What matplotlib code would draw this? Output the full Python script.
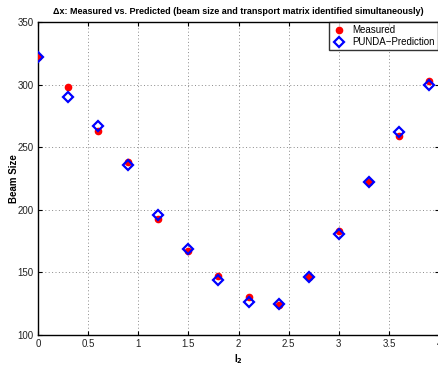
import matplotlib
matplotlib.use("Agg")
import matplotlib.pyplot as plt

plt.rcParams['font.family'] = ['Liberation Sans', 'DejaVu Sans']

x_vals = [0, 0.3, 0.6, 0.9, 1.2, 1.5, 1.8, 2.1, 2.4, 2.7, 3.0, 3.3, 3.6, 3.9]
measured = [322, 298, 263, 238, 193, 167, 147, 130, 124, 146, 183, 222, 259, 303]
predicted = [322, 290, 267, 236, 196, 169, 144, 126, 125, 146, 181, 222, 262, 300]
x_ticks = [0, 0.5, 1, 1.5, 2, 2.5, 3, 3.5, 4]
y_ticks = [100, 150, 200, 250, 300, 350]

fig = plt.figure(figsize=(4.38, 3.68), dpi=100)
ax = fig.add_axes([0.0868, 0.0897, 0.9155, 0.850])

ax.plot(x_vals, measured, 'o', color='red', markersize=4.5, linestyle='none', label='Measured', zorder=3)
ax.plot(x_vals, predicted, 'D', markerfacecolor='none', markeredgecolor='blue', markeredgewidth=1.6,
        markersize=4.8, linestyle='none', label='PUNDA\u2212Prediction', zorder=4)

ax.set_xlim(0, 4)
ax.set_ylim(100, 350)
ax.set_xticks(x_ticks)
ax.set_xticklabels(['0', '0.5', '1', '1.5', '2', '2.5', '3', '3.5', '4'])
ax.set_yticks(y_ticks)
ax.tick_params(direction='in', labelsize=7, length=3, width=0.8, top=True, right=True,
               labelcolor='#222222', pad=3)
ax.grid(True, linestyle=(0, (1, 2.5)), color='#8a8a8a', linewidth=0.7)
for s in ax.spines.values():
    s.set_linewidth(1.0)

ax.set_title('\u0394x: Measured vs. Predicted (beam size and transport matrix identified simultaneously)',
             fontsize=6.5, fontweight='bold', pad=6)
ax.set_xlabel('I$_\\mathbf{2}$', fontsize=7, fontweight='bold', labelpad=2)
ax.set_ylabel('Beam Size', fontsize=7, fontweight='bold', labelpad=-1)

leg = ax.legend(loc='upper right', fontsize=7, frameon=True, fancybox=False, edgecolor='black',
                borderaxespad=0.0, handletextpad=0.6, borderpad=0.3, labelspacing=0.2, handlelength=1.5,
                bbox_to_anchor=(0.997, 1.0))
leg.get_frame().set_linewidth(1.0)

fig.savefig('out.png', dpi=100)
